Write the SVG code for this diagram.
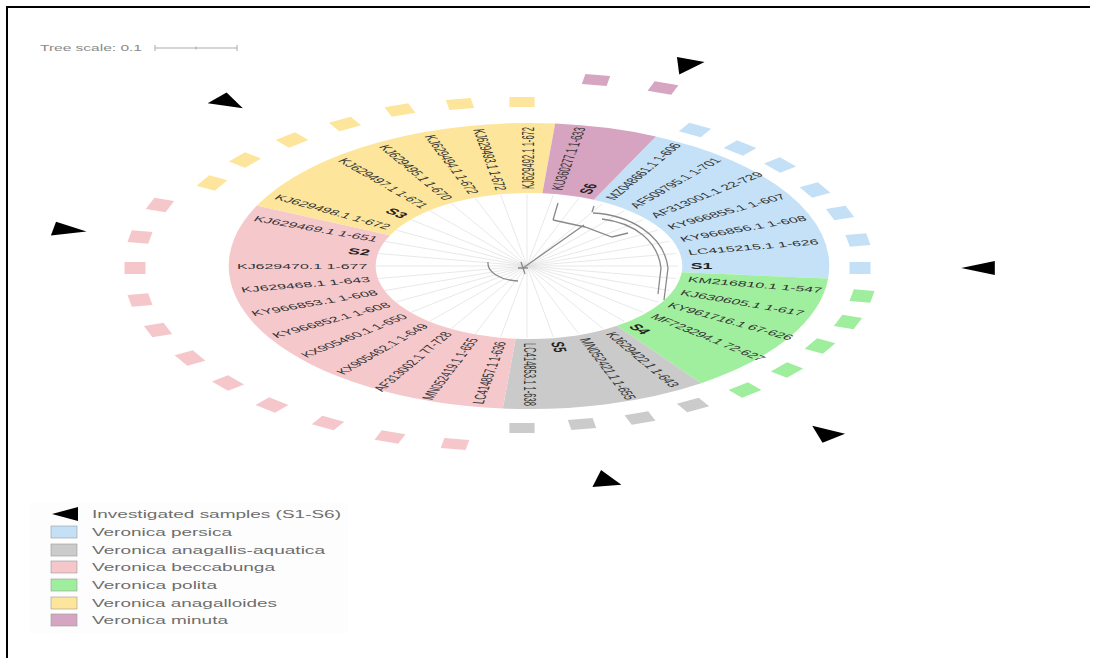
<svg xmlns="http://www.w3.org/2000/svg" width="1097" height="658" viewBox="0 0 1097 658">
<style>
.lbl{font-family:"Liberation Sans",Arial,sans-serif;font-size:7.6px;fill:#333}
.lb{font-family:"Liberation Sans",Arial,sans-serif;font-size:8.5px;font-weight:bold;fill:#222}
.leg{font-family:"Liberation Sans",Arial,sans-serif;font-size:11px;fill:#6e6e6e}
.ray{stroke:#dedede;stroke-width:0.7;fill:none;vector-effect:non-scaling-stroke}
.br{stroke:#8a8a8a;stroke-width:1.3;fill:none}
.tri{fill:#000}
.sq-b{fill:#c4e0f6}.sq-g{fill:#9eee9e}.sq-a{fill:#cbcbcb}.sq-p{fill:#f5c7cb}.sq-y{fill:#fde59b}.sq-m{fill:#d6a5c2}
</style>
<rect x="0" y="0" width="1097" height="658" fill="#fff"/>
<path d="M7 658 V7 H1090" fill="none" stroke="#000" stroke-width="2"/>

<g id="scale">
<text x="40" y="51" style="font-family:'Liberation Sans',Arial,sans-serif;font-size:9px;fill:#8a8a8a" textLength="102" lengthAdjust="spacingAndGlyphs">Tree scale: 0.1</text>
<path d="M155 48 H237 M155 45 V51 M237 45 V51 M196 46.5 V49.5" stroke="#aaa" stroke-width="1" fill="none"/>
</g>

<g id="sectors" transform="translate(529,266) scale(2.1,1)">
<path id="sec-persica" fill="#c4e1f7" d="M60.43 -129.60 A143 143 0 0 1 142.46 12.47 L72.72 6.36 A73 73 0 0 0 30.85 -66.16 Z"/>
<path id="sec-polita" fill="#a0ef9f" d="M142.46 12.47 A143 143 0 0 1 82.02 117.14 L41.87 59.80 A73 73 0 0 0 72.72 6.36 Z"/>
<path id="sec-aquatica" fill="#cacaca" d="M82.02 117.14 A143 143 0 0 1 -12.47 142.46 L-6.36 72.72 A73 73 0 0 0 41.87 59.80 Z"/>
<path id="sec-beccabunga" fill="#f5c8cc" d="M-12.47 142.46 A143 143 0 0 1 -129.60 -60.43 L-66.16 -30.85 A73 73 0 0 0 -6.36 72.72 Z"/>
<path id="sec-anagalloides" fill="#fde69b" d="M-129.60 -60.43 A143 143 0 0 1 12.47 -142.46 L6.36 -72.72 A73 73 0 0 0 -66.16 -30.85 Z"/>
<path id="sec-minuta" fill="#d6a4c1" d="M12.47 -142.46 A143 143 0 0 1 60.43 -129.60 L30.85 -66.16 A73 73 0 0 0 6.36 -72.72 Z"/>
</g>

<g id="connectors">
<g transform="translate(527,266) scale(2.1,1)">
<path class="ray" d="M0 0 L72 0 M0 0 L70.9 12.5 M0 0 L67.7 24.6 M0 0 L62.4 36 M0 0 L55.2 46.3 M0 0 L46.3 55.2 M0 0 L36 62.4 M0 0 L24.6 67.7 M0 0 L12.5 70.9 M0 0 L0 72 M0 0 L-12.5 70.9 M0 0 L-24.6 67.7 M0 0 L-36 62.4 M0 0 L-46.3 55.2 M0 0 L-55.2 46.3 M0 0 L-62.4 36 M0 0 L-67.7 24.6 M0 0 L-70.9 12.5 M0 0 L-72 0 M0 0 L-70.9 -12.5 M0 0 L-67.7 -24.6 M0 0 L-62.4 -36 M0 0 L-55.2 -46.3 M0 0 L-46.3 -55.2 M0 0 L-36 -62.4 M0 0 L-24.6 -67.7 M0 0 L-12.5 -70.9 M0 0 L0 -72 M0 0 L12.5 -70.9 M0 0 L24.6 -67.7 M0 0 L36 -62.4 M0 0 L46.3 -55.2 M0 0 L55.2 -46.3 M0 0 L62.4 -36 M0 0 L67.7 -24.6 M0 0 L70.9 -12.5"/>
</g>
<path class="br" d="M488 262 A32 18 0 0 0 518 281"/>
<path class="br" d="M521 262 L525 274 M518 268 L528 268"/>
<path class="br" d="M523 268 L584 225"/>
<path class="br" d="M553 220 L558 203"/>
<path class="br" d="M553 220 L585 227 L612 237 L628 233"/>
<path class="br" stroke="#b09a9a" d="M592 212 L594 206 M593 213 C630 215 664 235 668 268 L664 300"/>
<path class="br" stroke="#aaaaaa" d="M602 219 C636 223 658 242 661 268 L658 294"/>
</g>

<g id="labels" transform="translate(529,266) scale(2.1,1)">
<g id="leaf-S1"><text class="lb" transform="rotate(0)" x="77" y="3">S1</text></g>
<g id="leaf-10"><text class="lbl" transform="rotate(10)" x="77" y="2.5">KM216810.1 1-547</text></g>
<g id="leaf-20"><text class="lbl" transform="rotate(20)" x="77" y="2.5">KJ630605.1 1-617</text></g>
<g id="leaf-30"><text class="lbl" transform="rotate(30)" x="77" y="2.5">KY961716.1 67-626</text></g>
<g id="leaf-40"><text class="lbl" transform="rotate(40)" x="77" y="2.5">MF723294.1 72-627</text></g>
<g id="leaf-S4"><text class="lb" transform="rotate(50)" x="77" y="3">S4</text></g>
<g id="leaf-60"><text class="lbl" transform="rotate(60)" x="77" y="2.5">KJ629422.1 1-643</text></g>
<g id="leaf-70"><text class="lbl" transform="rotate(70)" x="77" y="2.5">MN052421.1 1-655</text></g>
<g id="leaf-S5"><text class="lb" transform="rotate(80)" x="77" y="3">S5</text></g>
<g id="leaf-90"><text class="lbl" transform="rotate(90)" x="77" y="2.5">LC414853.1 1-638</text></g>
<g id="leaf-100"><text class="lbl" transform="rotate(-80)" x="-77" y="2.5" text-anchor="end">LC414857.1 1-636</text></g>
<g id="leaf-110"><text class="lbl" transform="rotate(-70)" x="-77" y="2.5" text-anchor="end">MN052419.1 1-655</text></g>
<g id="leaf-120"><text class="lbl" transform="rotate(-60)" x="-77" y="2.5" text-anchor="end">AF313002.1 77-728</text></g>
<g id="leaf-130"><text class="lbl" transform="rotate(-50)" x="-77" y="2.5" text-anchor="end">KX905462.1 1-649</text></g>
<g id="leaf-140"><text class="lbl" transform="rotate(-40)" x="-77" y="2.5" text-anchor="end">KX905460.1 1-650</text></g>
<g id="leaf-150"><text class="lbl" transform="rotate(-30)" x="-77" y="2.5" text-anchor="end">KY966852.1 1-608</text></g>
<g id="leaf-160"><text class="lbl" transform="rotate(-20)" x="-77" y="2.5" text-anchor="end">KY966853.1 1-608</text></g>
<g id="leaf-170"><text class="lbl" transform="rotate(-10)" x="-77" y="2.5" text-anchor="end">KJ629468.1 1-643</text></g>
<g id="leaf-180"><text class="lbl" transform="rotate(0)" x="-77" y="2.5" text-anchor="end">KJ629470.1 1-677</text></g>
<g id="leaf-S2"><text class="lb" transform="rotate(10)" x="-77" y="3" text-anchor="end">S2</text></g>
<g id="leaf-200"><text class="lbl" transform="rotate(20)" x="-77" y="2.5" text-anchor="end">KJ629469.1 1-651</text></g>
<g id="leaf-210"><text class="lbl" transform="rotate(30)" x="-77" y="2.5" text-anchor="end">KJ629498.1 1-672</text></g>
<g id="leaf-S3"><text class="lb" transform="rotate(40)" x="-77" y="3" text-anchor="end">S3</text></g>
<g id="leaf-230"><text class="lbl" transform="rotate(50)" x="-77" y="2.5" text-anchor="end">KJ629497.1 1-671</text></g>
<g id="leaf-240"><text class="lbl" transform="rotate(60)" x="-77" y="2.5" text-anchor="end">KJ629495.1 1-670</text></g>
<g id="leaf-250"><text class="lbl" transform="rotate(70)" x="-77" y="2.5" text-anchor="end">KJ629494.1 1-672</text></g>
<g id="leaf-260"><text class="lbl" transform="rotate(80)" x="-77" y="2.5" text-anchor="end">KJ629493.1 1-672</text></g>
<g id="leaf-270"><text class="lbl" transform="rotate(-90)" x="77" y="2.5">KJ629492.1 1-672</text></g>
<g id="leaf-280"><text class="lbl" transform="rotate(-80)" x="77" y="2.5">KU360277.1 1-633</text></g>
<g id="leaf-S6"><text class="lb" transform="rotate(-70)" x="77" y="3">S6</text></g>
<g id="leaf-300"><text class="lbl" transform="rotate(-60)" x="77" y="2.5">MZ048661.1 1-606</text></g>
<g id="leaf-310"><text class="lbl" transform="rotate(-50)" x="77" y="2.5">AF509795.1 1-701</text></g>
<g id="leaf-320"><text class="lbl" transform="rotate(-40)" x="77" y="2.5">AF313001.1 22-729</text></g>
<g id="leaf-330"><text class="lbl" transform="rotate(-30)" x="77" y="2.5">KY966855.1 1-607</text></g>
<g id="leaf-340"><text class="lbl" transform="rotate(-20)" x="77" y="2.5">KY966856.1 1-608</text></g>
<g id="leaf-350"><text class="lbl" transform="rotate(-10)" x="77" y="2.5">LC415215.1 1-626</text></g>
</g>

<g id="colorstrip">
<rect class="sq-b" transform="translate(860,268) scale(2.1,1) rotate(0)" x="-5" y="-6" width="10" height="12"/>
<rect class="sq-g" transform="translate(862,296) scale(2.1,1) rotate(10)" x="-5" y="-6" width="10" height="12"/>
<rect class="sq-g" transform="translate(848,322) scale(2.1,1) rotate(20)" x="-5" y="-6" width="10" height="12"/>
<rect class="sq-g" transform="translate(820,346) scale(2.1,1) rotate(30)" x="-5" y="-6" width="10" height="12"/>
<rect class="sq-g" transform="translate(787,370) scale(2.1,1) rotate(40)" x="-5" y="-6" width="10" height="12"/>
<rect class="sq-g" transform="translate(745,390) scale(2.1,1) rotate(50)" x="-5" y="-6" width="10" height="12"/>
<rect class="sq-a" transform="translate(693,405) scale(2.1,1) rotate(60)" x="-5" y="-6" width="10" height="12"/>
<rect class="sq-a" transform="translate(640,418) scale(2.1,1) rotate(70)" x="-5" y="-6" width="10" height="12"/>
<rect class="sq-a" transform="translate(582,424) scale(2.1,1) rotate(80)" x="-5" y="-6" width="10" height="12"/>
<rect class="sq-a" transform="translate(522,428) scale(2.1,1) rotate(90)" x="-5" y="-6" width="10" height="12"/>
<rect class="sq-p" transform="translate(455,444) scale(2.1,1) rotate(100)" x="-5" y="-6" width="10" height="12"/>
<rect class="sq-p" transform="translate(390,437) scale(2.1,1) rotate(110)" x="-5" y="-6" width="10" height="12"/>
<rect class="sq-p" transform="translate(328,423) scale(2.1,1) rotate(120)" x="-5" y="-6" width="10" height="12"/>
<rect class="sq-p" transform="translate(272,405) scale(2.1,1) rotate(130)" x="-5" y="-6" width="10" height="12"/>
<rect class="sq-p" transform="translate(228,383) scale(2.1,1) rotate(140)" x="-5" y="-6" width="10" height="12"/>
<rect class="sq-p" transform="translate(190,358) scale(2.1,1) rotate(150)" x="-5" y="-6" width="10" height="12"/>
<rect class="sq-p" transform="translate(158,330) scale(2.1,1) rotate(160)" x="-5" y="-6" width="10" height="12"/>
<rect class="sq-p" transform="translate(140,300) scale(2.1,1) rotate(170)" x="-5" y="-6" width="10" height="12"/>
<rect class="sq-p" transform="translate(135,268) scale(2.1,1) rotate(180)" x="-5" y="-6" width="10" height="12"/>
<rect class="sq-p" transform="translate(140,237) scale(2.1,1) rotate(190)" x="-5" y="-6" width="10" height="12"/>
<rect class="sq-p" transform="translate(160,205) scale(2.1,1) rotate(200)" x="-5" y="-6" width="10" height="12"/>
<rect class="sq-y" transform="translate(212,183) scale(2.1,1) rotate(210)" x="-5" y="-6" width="10" height="12"/>
<rect class="sq-y" transform="translate(245,160) scale(2.1,1) rotate(220)" x="-5" y="-6" width="10" height="12"/>
<rect class="sq-y" transform="translate(292,140) scale(2.1,1) rotate(230)" x="-5" y="-6" width="10" height="12"/>
<rect class="sq-y" transform="translate(345,124) scale(2.1,1) rotate(240)" x="-5" y="-6" width="10" height="12"/>
<rect class="sq-y" transform="translate(400,110) scale(2.1,1) rotate(250)" x="-5" y="-6" width="10" height="12"/>
<rect class="sq-y" transform="translate(460,104) scale(2.1,1) rotate(260)" x="-5" y="-6" width="10" height="12"/>
<rect class="sq-y" transform="translate(522,102) scale(2.1,1) rotate(270)" x="-5" y="-6" width="10" height="12"/>
<rect class="sq-m" transform="translate(596,80) scale(2.1,1) rotate(280)" x="-5" y="-6" width="10" height="12"/>
<rect class="sq-m" transform="translate(663,88) scale(2.1,1) rotate(290)" x="-5" y="-6" width="10" height="12"/>
<rect class="sq-b" transform="translate(695,130) scale(2.1,1) rotate(300)" x="-5" y="-6" width="10" height="12"/>
<rect class="sq-b" transform="translate(740,148) scale(2.1,1) rotate(310)" x="-5" y="-6" width="10" height="12"/>
<rect class="sq-b" transform="translate(780,165) scale(2.1,1) rotate(320)" x="-5" y="-6" width="10" height="12"/>
<rect class="sq-b" transform="translate(815,190) scale(2.1,1) rotate(330)" x="-5" y="-6" width="10" height="12"/>
<rect class="sq-b" transform="translate(840,213) scale(2.1,1) rotate(340)" x="-5" y="-6" width="10" height="12"/>
<rect class="sq-b" transform="translate(858,240) scale(2.1,1) rotate(350)" x="-5" y="-6" width="10" height="12"/>
</g>

<g id="samples">
<polygon class="tri" transform="translate(978,268) scale(2.1,1) rotate(0)" points="-8,0 8,-7 8,7"/>
<polygon class="tri" transform="translate(823,432) scale(2.1,1) rotate(50)" points="-8,0 8,-7 8,7"/>
<polygon class="tri" transform="translate(604,478) scale(2.1,1) rotate(80)" points="-8,0 8,-7 8,7"/>
<polygon class="tri" transform="translate(70,230) scale(2.1,1) rotate(190)" points="-8,0 8,-7 8,7"/>
<polygon class="tri" transform="translate(230,103) scale(2.1,1) rotate(220)" points="-8,0 8,-7 8,7"/>
<polygon class="tri" transform="translate(685,67) scale(2.1,1) rotate(290)" points="-8,0 8,-7 8,7"/>
</g>

<g id="legend">
<rect x="30" y="503" width="318" height="130" fill="#fdfdfd"/>
<polygon class="tri" points="52,514 78,507 78,521"/>
<text class="leg" x="92" y="518" textLength="249" lengthAdjust="spacingAndGlyphs">Investigated samples (S1-S6)</text>
<rect class="sq-b" x="51" y="526" width="26" height="12" stroke="#999" stroke-width="0.6"/>
<text class="leg" x="92" y="536" textLength="140" lengthAdjust="spacingAndGlyphs">Veronica persica</text>
<rect class="sq-a" x="51" y="544" width="26" height="12" stroke="#999" stroke-width="0.6"/>
<text class="leg" x="92" y="554" textLength="233" lengthAdjust="spacingAndGlyphs">Veronica anagallis-aquatica</text>
<rect class="sq-p" x="51" y="561" width="26" height="12" stroke="#999" stroke-width="0.6"/>
<text class="leg" x="92" y="571" textLength="183" lengthAdjust="spacingAndGlyphs">Veronica beccabunga</text>
<rect class="sq-g" x="51" y="579" width="26" height="12" stroke="#999" stroke-width="0.6"/>
<text class="leg" x="92" y="589" textLength="125" lengthAdjust="spacingAndGlyphs">Veronica polita</text>
<rect class="sq-y" x="51" y="597" width="26" height="12" stroke="#999" stroke-width="0.6"/>
<text class="leg" x="92" y="607" textLength="185" lengthAdjust="spacingAndGlyphs">Veronica anagalloides</text>
<rect class="sq-m" x="51" y="614" width="26" height="12" stroke="#999" stroke-width="0.6"/>
<text class="leg" x="92" y="624" textLength="136" lengthAdjust="spacingAndGlyphs">Veronica minuta</text>
</g>
</svg>
